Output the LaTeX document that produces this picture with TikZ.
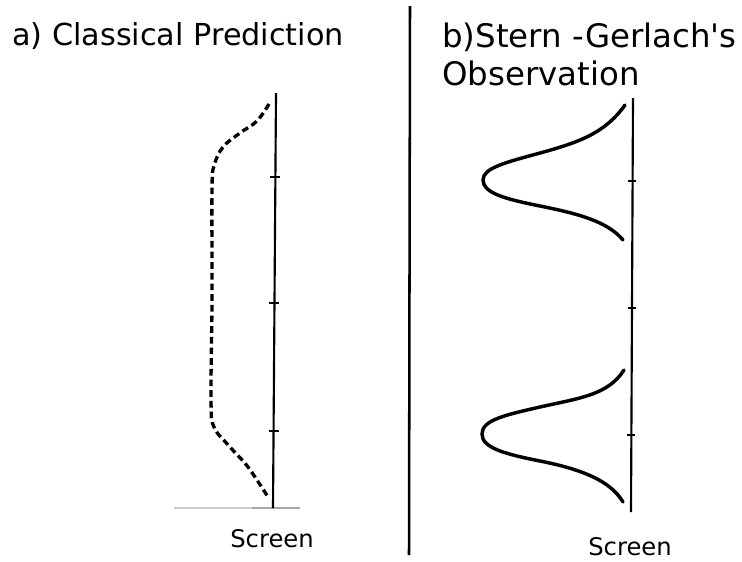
\documentclass[tikz,border=0pt]{standalone}
\usepackage{fontspec}
\setmainfont{DejaVu Sans}[Ligatures=TeXOff]
\begin{document}
\begin{tikzpicture}[x=0.75pt,y=-0.75pt,
  title/.style={anchor=base west,inner sep=0pt,font=\fontsize{22.7pt}{27pt}\selectfont},
  titleb/.style={anchor=base west,inner sep=0pt,font=\fontsize{24.3pt}{29pt}\selectfont},
  scrlabel/.style={anchor=base,inner sep=0pt,font=\fontsize{18.2pt}{22pt}\selectfont},
  screenline/.style={line width=1.6pt,black},
  tickmark/.style={line width=1.1pt,black},
  curve/.style={line width=2.6pt,black,line cap=round},
  dashcurve/.style={line width=2.5pt,black,dash pattern=on 5pt off 3pt},
  floorline/.style={line width=0.8pt,black!20}]
\useasboundingbox (0,0) rectangle (742,561);
% titles
\node[title] (ta) at (12,45) {a) Classical Prediction};
\node[titleb] (tb1) at (442,47) {b)Stern -Gerlach's};
\node[titleb] (tb2) at (442,85) {Observation};
% divider
\coordinate (dtop) at (410,6);
\coordinate (dbot) at (409,555);
\draw[line width=1.9pt] (dtop) -- (dbot);
% left screen
\coordinate (ltop) at (276,93);
\coordinate (lbot) at (273,508);
\draw[floorline] (174,508) -- (300,508);
\draw[line width=0.8pt,black!35] (252,508) -- (300,508);
\draw[screenline] (ltop) -- (lbot);
\foreach \y/\xx in {177/275.3,303/274.4,431/273.6}
  \draw[tickmark] (\xx-5,\y) -- (\xx+5,\y);
\draw[dashcurve] plot[smooth,tension=0.6] coordinates {(269,104) (257,121) (240,133) (223,147) (214,166) (212,190) (212,300) (211,400) (214,427) (230,447) (248,467) (268,497)};
\node[scrlabel] (sa) at (272,547) {Screen};
% right screen
\coordinate (rtop) at (633,98);
\coordinate (rbot) at (631,512);
\draw[screenline] (rtop) -- (rbot);
\foreach \y/\xx in {181/632.3,308/631.7,435/631.1}
  \draw[tickmark] (\xx-4,\y) -- (\xx+4,\y);
\draw[curve] (625,105) .. controls (605,133) and (580,142) .. (540,153)
  .. controls (505,162.6) and (483,168) .. (483,180)
  .. controls (483,193) and (505,199) .. (540,206)
  .. controls (580,214) and (608,222) .. (623,240);
\draw[curve] (624,370) .. controls (608,395) and (580,398) .. (540,407)
  .. controls (505,415) and (482,420) .. (482,434)
  .. controls (482,448) and (505,454) .. (540,461)
  .. controls (580,469) and (610,480) .. (623,502);
\node[scrlabel] (sb) at (630,555) {Screen};
\end{tikzpicture}
\end{document}
